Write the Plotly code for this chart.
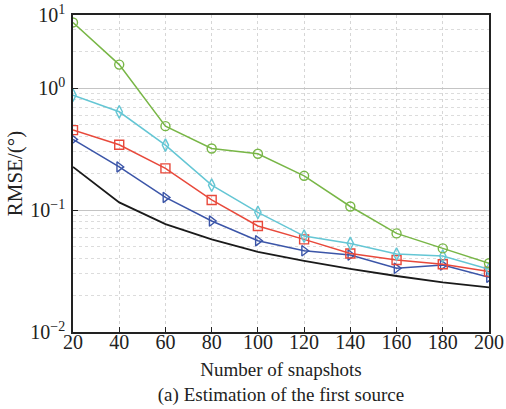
import plotly.graph_objects as go

snapshots = [20, 40, 60, 80, 100, 120, 140, 160, 180, 200]

green_circle = [3.46, 1.56, 0.488, 0.32, 0.29, 0.191, 0.107, 0.0644, 0.0485, 0.0366]
cyan_diamond = [0.877, 0.64, 0.341, 0.160, 0.0958, 0.0612, 0.0533, 0.0436, 0.042, 0.0327]
red_square = [0.453, 0.343, 0.22, 0.121, 0.074, 0.0575, 0.044, 0.0389, 0.0359, 0.0313]
blue_triangle = [0.38, 0.226, 0.127, 0.0813, 0.0561, 0.0464, 0.0428, 0.0333, 0.0354, 0.0281]
black_line = [0.226, 0.1156, 0.0768, 0.0575, 0.0455, 0.0384, 0.033, 0.0288, 0.0255, 0.0232]

y_tickvals = [0.01, 0.1, 1, 10 ** 0.6]
y_ticktext = ["10<sup>−2</sup>", "10<sup>−1</sup>", "10<sup>0</sup>", "10<sup>1</sup>"]
x_ticks = snapshots

FONT = "Liberation Serif, Times New Roman, serif"

series = [
    (black_line, "#1a1a1a", None),
    (blue_triangle, "#3b55a8", "triangle-right-open"),
    (red_square, "#e8493b", "square-open"),
    (cyan_diamond, "#64c6d4", "diamond-tall-open"),
    (green_circle, "#78b646", "circle-open"),
]

fig = go.Figure()
for vals, color, sym in series:
    if sym is None:
        fig.add_trace(go.Scatter(x=snapshots, y=vals, mode="lines",
                                 line=dict(color=color, width=1.8), showlegend=False))
    else:
        fig.add_trace(go.Scatter(x=snapshots, y=vals, mode="lines+markers",
                                 line=dict(color=color, width=1.5),
                                 marker=dict(symbol=sym, size=9, color=color,
                                             line=dict(color=color, width=1.4)),
                                 showlegend=False))

fig.update_layout(
    width=506, height=409,
    margin=dict(l=73, r=17, t=15, b=77),
    paper_bgcolor="white", plot_bgcolor="white",
    font=dict(family=FONT, size=20, color="#222"),
    xaxis=dict(
        range=[20, 200], tickvals=x_ticks, ticks="inside", ticklen=5,
        tickcolor="#222", showgrid=True, gridcolor="#d6d6d6", griddash="dot",
        showline=True, linecolor="#222", linewidth=1.5, mirror=True,
        zeroline=False, automargin=False,
        tickfont=dict(size=20), ticklabelstandoff=-9,
        title=dict(text="Number of snapshots<br>(a) Estimation of the first source",
                   standoff=11, font=dict(size=19)),
    ),
    yaxis=dict(
        type="log", range=[-2, 0.6], tickvals=y_tickvals, ticktext=y_ticktext,
        ticks="inside", ticklen=5, tickcolor="#222", automargin=False,
        tickfont=dict(size=20), ticklabelstandoff=2,
        showgrid=True, gridcolor="#c4c4c4",
        minor=dict(dtick="D1", showgrid=True, gridcolor="#dcdcdc", griddash="dot", ticks=""),
        showline=True, linecolor="#222", linewidth=1.5, mirror=True,
        title=dict(text="RMSE/(°)", standoff=2, font=dict(size=21)),
    ),
)

fig.write_html("out.html")
